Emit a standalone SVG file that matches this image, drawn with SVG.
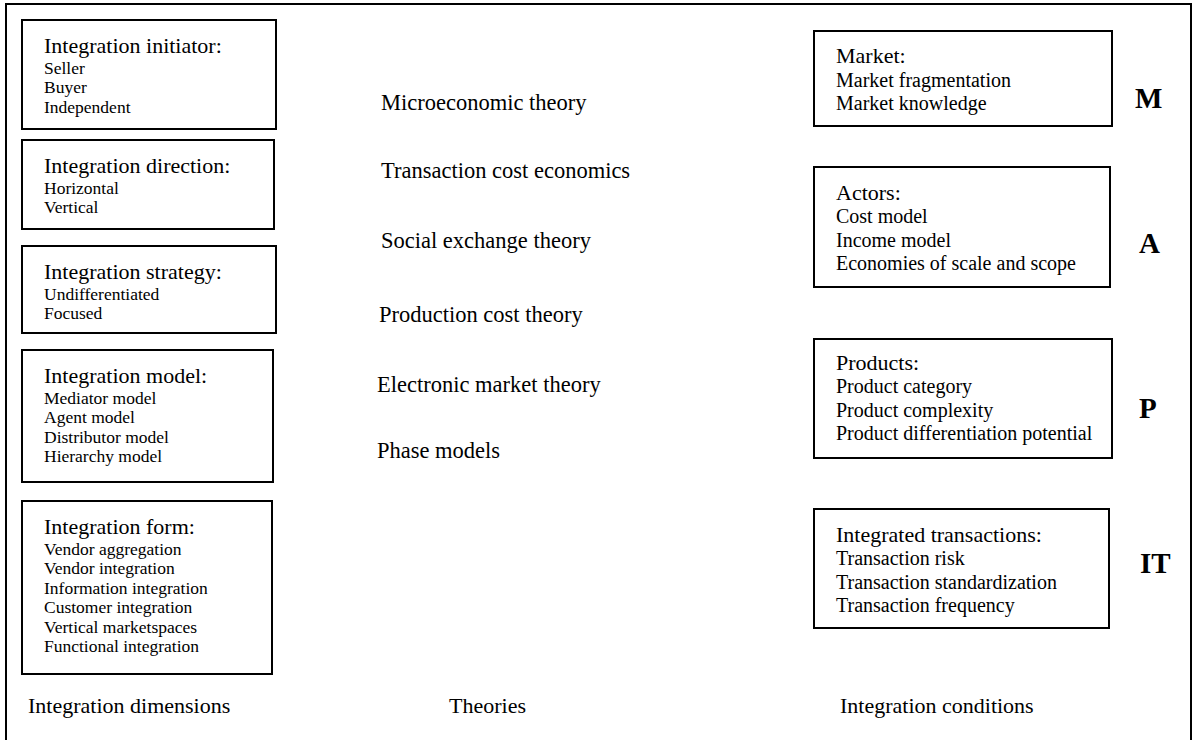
<svg xmlns="http://www.w3.org/2000/svg" width="1197" height="740" viewBox="0 0 1197 740">
<style>
text{font-family:"Liberation Serif","Times New Roman",serif;fill:#000}
.box{fill:#fff;stroke:#000;stroke-width:2}
.t{font-size:22px}
.i{font-size:17.5px}
.r{font-size:20px}
.th{font-size:22.5px}
.L{font-size:29px;font-weight:bold}
</style>
<rect x="6" y="4" width="1185" height="742" fill="#fff" stroke="#000" stroke-width="2"/>
<g id="dim-initiator">
<rect class="box" x="22" y="20" width="254" height="109"/>
<text class="t" x="44" y="52.5">Integration initiator:</text>
<text class="i" x="44" y="73.5">Seller</text>
<text class="i" x="44" y="93">Buyer</text>
<text class="i" x="44" y="112.5">Independent</text>
</g>
<g id="dim-direction">
<rect class="box" x="22" y="140" width="252" height="89"/>
<text class="t" x="44" y="172.5">Integration direction:</text>
<text class="i" x="44" y="193.5">Horizontal</text>
<text class="i" x="44" y="213">Vertical</text>
</g>
<g id="dim-strategy">
<rect class="box" x="22" y="246" width="254" height="87"/>
<text class="t" x="44" y="278.5">Integration strategy:</text>
<text class="i" x="44" y="299.5">Undifferentiated</text>
<text class="i" x="44" y="319">Focused</text>
</g>
<g id="dim-model">
<rect class="box" x="22" y="350" width="251" height="132"/>
<text class="t" x="44" y="382.5">Integration model:</text>
<text class="i" x="44" y="403.5">Mediator model</text>
<text class="i" x="44" y="423">Agent model</text>
<text class="i" x="44" y="442.5">Distributor model</text>
<text class="i" x="44" y="462">Hierarchy model</text>
</g>
<g id="dim-form">
<rect class="box" x="22" y="501" width="250" height="173"/>
<text class="t" x="44" y="533.5">Integration form:</text>
<text class="i" x="44" y="554.5">Vendor aggregation</text>
<text class="i" x="44" y="574">Vendor integration</text>
<text class="i" x="44" y="593.5">Information integration</text>
<text class="i" x="44" y="613">Customer integration</text>
<text class="i" x="44" y="632.5">Vertical marketspaces</text>
<text class="i" x="44" y="652">Functional integration</text>
</g>
<g id="theories">
<text class="th" x="381" y="110">Microeconomic theory</text>
<text class="th" x="381" y="178">Transaction cost economics</text>
<text class="th" x="381" y="248">Social exchange theory</text>
<text class="th" x="379" y="322">Production cost theory</text>
<text class="th" x="377" y="392">Electronic market theory</text>
<text class="th" x="377" y="458">Phase models</text>
</g>
<g id="cond-market">
<rect class="box" x="814" y="31" width="298" height="95"/>
<text class="t" x="836" y="63">Market:</text>
<text class="r" x="836" y="86.5">Market fragmentation</text>
<text class="r" x="836" y="109.5">Market knowledge</text>
<text class="L" x="1135" y="108">M</text>
</g>
<g id="cond-actors">
<rect class="box" x="814" y="167" width="296" height="120"/>
<text class="t" x="836" y="199.5">Actors:</text>
<text class="r" x="836" y="223">Cost model</text>
<text class="r" x="836" y="246.5">Income model</text>
<text class="r" x="836" y="270">Economies of scale and scope</text>
<text class="L" x="1139" y="253">A</text>
</g>
<g id="cond-products">
<rect class="box" x="814" y="339" width="298" height="119"/>
<text class="t" x="836" y="370">Products:</text>
<text class="r" x="836" y="393">Product category</text>
<text class="r" x="836" y="416.5">Product complexity</text>
<text class="r" x="836" y="440">Product differentiation potential</text>
<text class="L" x="1139" y="418">P</text>
</g>
<g id="cond-transactions">
<rect class="box" x="814" y="509" width="295" height="119"/>
<text class="t" x="836" y="541.5">Integrated transactions:</text>
<text class="r" x="836" y="565">Transaction risk</text>
<text class="r" x="836" y="588.5">Transaction standardization</text>
<text class="r" x="836" y="612">Transaction frequency</text>
<text class="L" x="1140" y="573">IT</text>
</g>
<g id="connectors"></g>
<g id="column-labels">
<text class="t" x="28" y="713">Integration dimensions</text>
<text class="t" x="449" y="713">Theories</text>
<text class="t" x="840" y="713">Integration conditions</text>
</g>
</svg>
